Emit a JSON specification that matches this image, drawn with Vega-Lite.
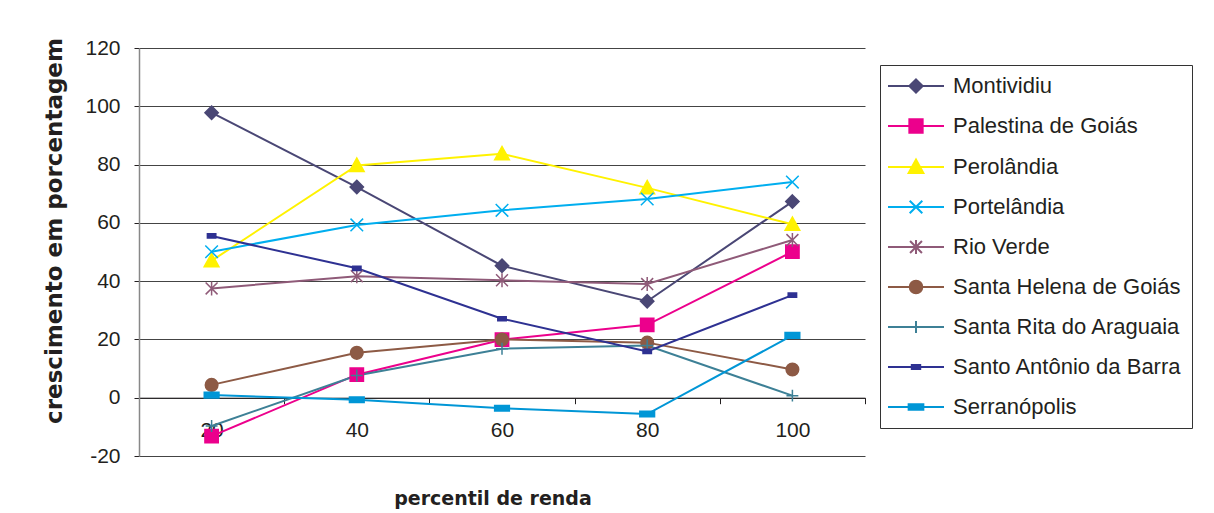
{
  "$schema": "https://vega.github.io/schema/vega-lite/v6.json",
  "width": 726,
  "height": 408,
  "autosize": {"type": "none"},
  "padding": {"left": 139, "top": 48, "right": 349, "bottom": 57},
  "background": "white",
  "config": {
    "view": {"stroke": null},
    "font": "Liberation Sans",
    "legend": {
      "title": null,
      "orient": "none",
      "legendX": 741,
      "legendY": 17,
      "padding": 10,
      "rowPadding": 18,
      "strokeColor": "#333333",
      "fillColor": "white",
      "labelFontSize": 22,
      "labelColor": "#231f20",
      "labelFont": "Liberation Sans",
      "labelLimit": 400,
      "symbolSize": 196,
      "symbolStrokeWidth": 2,
      "symbolOpacity": 1,
      "symbolOffset": 15,
      "labelOffset": 26
    }
  },
  "data": {
    "values": [
      {"city": "Montividiu", "p": 20, "v": 97.8},
      {"city": "Montividiu", "p": 40, "v": 72.3},
      {"city": "Montividiu", "p": 60, "v": 45.3},
      {"city": "Montividiu", "p": 80, "v": 33.1},
      {"city": "Montividiu", "p": 100, "v": 67.3},
      {"city": "Palestina de Goiás", "p": 20, "v": -13.2},
      {"city": "Palestina de Goiás", "p": 40, "v": 7.9},
      {"city": "Palestina de Goiás", "p": 60, "v": 19.9},
      {"city": "Palestina de Goiás", "p": 80, "v": 25.0},
      {"city": "Palestina de Goiás", "p": 100, "v": 50.1},
      {"city": "Perolândia", "p": 20, "v": 47.0},
      {"city": "Perolândia", "p": 40, "v": 79.7},
      {"city": "Perolândia", "p": 60, "v": 83.7},
      {"city": "Perolândia", "p": 80, "v": 72.0},
      {"city": "Perolândia", "p": 100, "v": 59.5},
      {"city": "Portelândia", "p": 20, "v": 50.1},
      {"city": "Portelândia", "p": 40, "v": 59.3},
      {"city": "Portelândia", "p": 60, "v": 64.3},
      {"city": "Portelândia", "p": 80, "v": 68.2},
      {"city": "Portelândia", "p": 100, "v": 74.0},
      {"city": "Rio Verde", "p": 20, "v": 37.5},
      {"city": "Rio Verde", "p": 40, "v": 41.7},
      {"city": "Rio Verde", "p": 60, "v": 40.3},
      {"city": "Rio Verde", "p": 80, "v": 39.0},
      {"city": "Rio Verde", "p": 100, "v": 54.1},
      {"city": "Santa Helena de Goiás", "p": 20, "v": 4.4},
      {"city": "Santa Helena de Goiás", "p": 40, "v": 15.4},
      {"city": "Santa Helena de Goiás", "p": 60, "v": 20.0},
      {"city": "Santa Helena de Goiás", "p": 80, "v": 18.9},
      {"city": "Santa Helena de Goiás", "p": 100, "v": 9.7},
      {"city": "Santa Rita do Araguaia", "p": 20, "v": -9.7},
      {"city": "Santa Rita do Araguaia", "p": 40, "v": 7.6},
      {"city": "Santa Rita do Araguaia", "p": 60, "v": 16.8},
      {"city": "Santa Rita do Araguaia", "p": 80, "v": 17.9},
      {"city": "Santa Rita do Araguaia", "p": 100, "v": 0.7},
      {"city": "Santo Antônio da Barra", "p": 20, "v": 55.5},
      {"city": "Santo Antônio da Barra", "p": 40, "v": 44.4},
      {"city": "Santo Antônio da Barra", "p": 60, "v": 27.1},
      {"city": "Santo Antônio da Barra", "p": 80, "v": 15.9},
      {"city": "Santo Antônio da Barra", "p": 100, "v": 35.2},
      {"city": "Serranópolis", "p": 20, "v": 0.9},
      {"city": "Serranópolis", "p": 40, "v": -0.7},
      {"city": "Serranópolis", "p": 60, "v": -3.6},
      {"city": "Serranópolis", "p": 80, "v": -5.6},
      {"city": "Serranópolis", "p": 100, "v": 21.4}
    ]
  },
  "encoding": {
    "x": {
      "field": "p",
      "type": "ordinal",
      "scale": {"type": "band", "paddingInner": 0, "paddingOuter": 0},
      "axis": {
        "title": "percentil de renda",
        "titleFont": "DejaVu Sans",
        "titleFontWeight": "bold",
        "titleFontSize": 19,
        "titleColor": "#231f20",
        "titleX": 353.5,
        "titleY": 106.8,
        "titleAlign": "center",
        "titleBaseline": "alphabetic",
        "labelAngle": 0,
        "labelFontSize": 21,
        "labelColor": "#231f20",
        "labelPadding": 16,
        "tickBand": "extent",
        "tickSize": 6,
        "tickColor": "#231f20",
        "domainColor": "#231f20",
        "domainWidth": 1,
        "offset": -58.3,
        "grid": false
      }
    },
    "y": {
      "field": "v",
      "type": "quantitative",
      "scale": {"domain": [-20, 120], "nice": false, "zero": false},
      "axis": {
        "title": "crescimento em porcentagem",
        "titleFont": "DejaVu Sans",
        "titleFontWeight": "bold",
        "titleFontSize": 23,
        "titleColor": "#231f20",
        "titleX": -78,
        "titleY": 182.5,
        "titleAngle": -90,
        "titleAlign": "center",
        "titleBaseline": "alphabetic",
        "values": [-20, 0, 20, 40, 60, 80, 100, 120],
        "labelExpr": "toString(datum.value)",
        "labelFontSize": 21,
        "labelColor": "#231f20",
        "labelPadding": 14,
        "tickSize": 5,
        "tickColor": "#231f20",
        "domainColor": "#888888",
        "domainWidth": 1.5,
        "grid": true,
        "gridColor": "#444444",
        "gridWidth": 1
      }
    }
  },
  "resolve": {
    "scale": {"shape": "independent", "stroke": "independent", "fill": "independent"},
    "legend": {"shape": "independent", "stroke": "independent", "fill": "independent"}
  },
  "layer": [
    {
      "mark": {"type": "line", "strokeWidth": 2},
      "encoding": {
        "stroke": {
          "field": "city",
          "type": "nominal",
          "scale": {
            "domain": ["Montividiu", "Palestina de Goiás", "Perolândia", "Portelândia", "Rio Verde", "Santa Helena de Goiás", "Santa Rita do Araguaia", "Santo Antônio da Barra", "Serranópolis"],
            "range": ["#4a4775", "#ec008c", "#fff200", "#00aeef", "#8f5a78", "#8d5a45", "#3d8096", "#2e3192", "#0096d6"]
          },
          "legend": null
        }
      }
    },
    {
      "mark": {"type": "point", "size": 196, "strokeWidth": 1.5, "opacity": 1},
      "encoding": {
        "stroke": {
          "field": "city",
          "type": "nominal",
          "scale": {
            "domain": ["Montividiu", "Palestina de Goiás", "Perolândia", "Portelândia", "Rio Verde", "Santa Helena de Goiás", "Santa Rita do Araguaia", "Santo Antônio da Barra", "Serranópolis"],
            "range": ["#4a4775", "#ec008c", "#fff200", "#00aeef", "#8f5a78", "#8d5a45", "#3d8096", "#2e3192", "#0096d6"]
          },
          "legend": null
        },
        "fill": {
          "field": "city",
          "type": "nominal",
          "scale": {
            "domain": ["Montividiu", "Palestina de Goiás", "Perolândia", "Portelândia", "Rio Verde", "Santa Helena de Goiás", "Santa Rita do Araguaia", "Santo Antônio da Barra", "Serranópolis"],
            "range": ["#4a4775", "#ec008c", "#fff200", "transparent", "transparent", "#8d5a45", "transparent", "#2e3192", "#0096d6"]
          },
          "legend": null
        },
        "shape": {
          "field": "city",
          "type": "nominal",
          "scale": {
            "domain": ["Montividiu", "Palestina de Goiás", "Perolândia", "Portelândia", "Rio Verde", "Santa Helena de Goiás", "Santa Rita do Araguaia", "Santo Antônio da Barra", "Serranópolis"],
            "range": ["M0,-0.95L0.95,0L0,0.95L-0.95,0Z", "M-0.95,-0.95L0.95,-0.95L0.95,0.95L-0.95,0.95Z", "M-1.05,0.85L0,-1.05L1.05,0.85Z", "M-0.9,-0.9L0.9,0.9M0.9,-0.9L-0.9,0.9", "M-0.85,-0.85L0.85,0.85M0.85,-0.85L-0.85,0.85M0,-1L0,1", "M-0.9,0A0.9,0.9 0 1,1 0.9,0A0.9,0.9 0 1,1 -0.9,0Z", "M-0.85,0L0.85,0M0,-0.85L0,0.85", "M-0.6,-0.3L0.6,-0.3L0.6,0.3L-0.6,0.3Z", "M-1.05,-0.4L1.05,-0.4L1.05,0.4L-1.05,0.4Z"]
          },
          "legend": null
        }
      }
    },
    {
      "mark": {"type": "point", "size": 196, "strokeWidth": 2, "opacity": 0},
      "encoding": {
        "stroke": {
          "field": "city",
          "type": "nominal",
          "scale": {
            "domain": ["Montividiu", "Palestina de Goiás", "Perolândia", "Portelândia", "Rio Verde", "Santa Helena de Goiás", "Santa Rita do Araguaia", "Santo Antônio da Barra", "Serranópolis"],
            "range": ["#4a4775", "#ec008c", "#fff200", "#00aeef", "#8f5a78", "#8d5a45", "#3d8096", "#2e3192", "#0096d6"]
          }
        },
        "fill": {
          "field": "city",
          "type": "nominal",
          "scale": {
            "domain": ["Montividiu", "Palestina de Goiás", "Perolândia", "Portelândia", "Rio Verde", "Santa Helena de Goiás", "Santa Rita do Araguaia", "Santo Antônio da Barra", "Serranópolis"],
            "range": ["#4a4775", "#ec008c", "#fff200", "transparent", "transparent", "#8d5a45", "transparent", "#2e3192", "#0096d6"]
          }
        },
        "shape": {
          "field": "city",
          "type": "nominal",
          "scale": {
            "domain": ["Montividiu", "Palestina de Goiás", "Perolândia", "Portelândia", "Rio Verde", "Santa Helena de Goiás", "Santa Rita do Araguaia", "Santo Antônio da Barra", "Serranópolis"],
            "range": ["M-4,0L4,0M0,-0.95L0.95,0L0,0.95L-0.95,0Z", "M-4,0L4,0M-0.95,-0.95L0.95,-0.95L0.95,0.95L-0.95,0.95Z", "M-4,0L4,0M-1.05,0.85L0,-1.05L1.05,0.85Z", "M-4,0L4,0M-0.9,-0.9L0.9,0.9M0.9,-0.9L-0.9,0.9", "M-4,0L4,0M-0.85,-0.85L0.85,0.85M0.85,-0.85L-0.85,0.85M0,-1L0,1", "M-4,0L4,0M-0.9,0A0.9,0.9 0 1,1 0.9,0A0.9,0.9 0 1,1 -0.9,0Z", "M-4,0L4,0M0,-0.85L0,0.85", "M-4,0L4,0M-0.6,-0.3L0.6,-0.3L0.6,0.3L-0.6,0.3Z", "M-4,0L4,0M-1.05,-0.4L1.05,-0.4L1.05,0.4L-1.05,0.4Z"]
          }
        }
      }
    }
  ]
}
